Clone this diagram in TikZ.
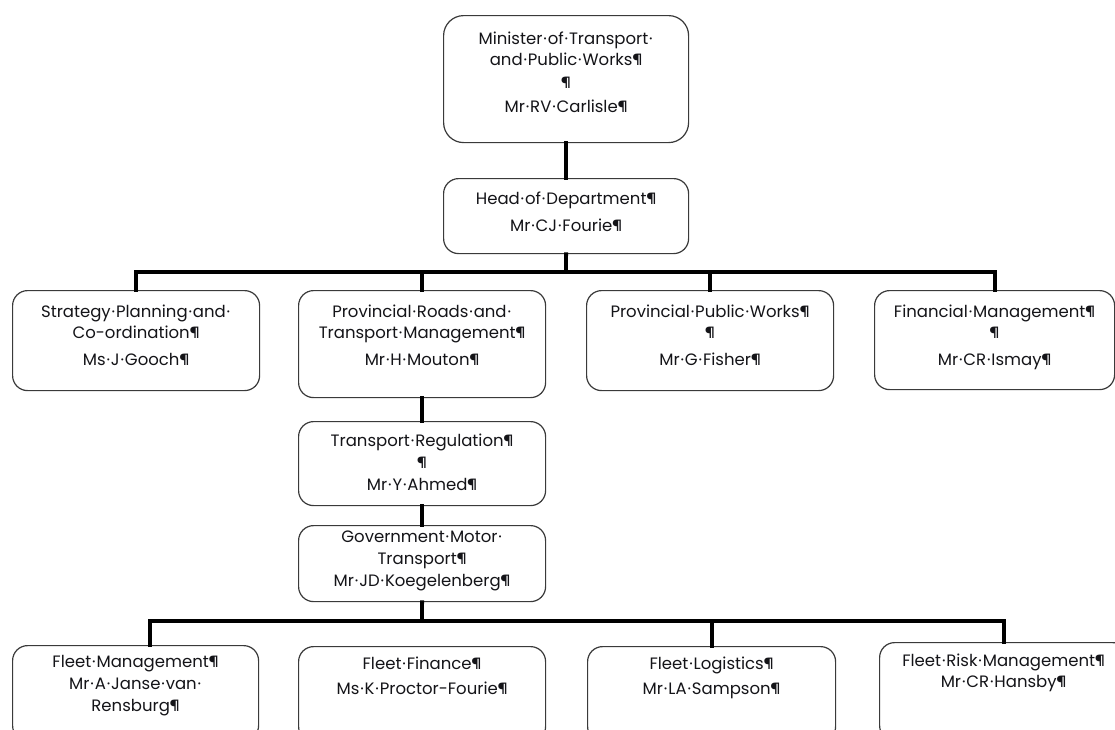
\documentclass[tikz,border=0pt]{standalone}
\usepackage{fontspec}
\setmainfont{Poppins}
\usetikzlibrary{calc}
\definecolor{boxline}{HTML}{3A3A3A}
\definecolor{txtcol}{HTML}{141418}
\newcommand\spc{\makebox[0.32em]{·}}
\begin{document}
\begin{tikzpicture}[x=1pt,y=-1pt,
  orgbox/.style={draw=boxline, line width=1.2pt, rounded corners=15pt, fill=white, inner sep=0pt, anchor=north west},
  txt/.style={align=center, inner sep=0pt, anchor=north, text=txtcol, font=\fontsize{16.5}{21}\selectfont},
  conn/.style={draw=black, line width=3.8pt, line cap=rect}]
\clip (0,0) rectangle (1115,729);
\fill[white] (0,0) rectangle (1115,729);
% boxes
\node[orgbox, rounded corners=20pt, minimum width=245pt, minimum height=127pt] (min) at (443,15) {};
\node[orgbox, minimum width=245pt, minimum height=75pt] (hod) at (443,178) {};
\node[orgbox, minimum width=247pt, minimum height=100pt] (strat) at (12,290) {};
\node[orgbox, minimum width=247pt, minimum height=107pt] (roads) at (298,290) {};
\node[orgbox, minimum width=247pt, minimum height=100pt] (pw) at (586,290) {};
\node[orgbox, minimum width=240pt, minimum height=99pt] (fin) at (874,290) {};
\node[orgbox, minimum width=247pt, minimum height=84pt] (tr) at (298,421) {};
\node[orgbox, minimum width=247pt, minimum height=76pt] (gmt) at (298,525) {};
\node[orgbox, minimum width=246pt, minimum height=95pt] (fm) at (12,645) {};
\node[orgbox, minimum width=247pt, minimum height=95pt] (ff) at (298,646) {};
\node[orgbox, minimum width=248pt, minimum height=95pt] (fl) at (587,646) {};
\node[orgbox, minimum width=248pt, minimum height=98pt] (fr) at (879,642) {};
% texts
\node[txt] (min-t) at ($(min.north)+(0,17)$) {Minister\spc of\spc Transport\spc\\and\spc Public\spc Works¶\\[2pt]¶\\[3pt]Mr\spc RV\spc Carlisle¶};
\node[txt] (hod-t) at ($(hod.north)+(0,14)$) {Head\spc of\spc Department¶\\[6pt]Mr\spc CJ\spc Fourie¶};
\node[txt] (strat-t) at ($(strat.north)+(0,15)$) {Strategy\spc Planning\spc and\spc\\Co-ordination¶\\[6pt]Ms\spc J\spc Gooch¶};
\node[txt] (roads-t) at ($(roads.north)+(0,15)$) {Provincial\spc Roads\spc and\spc\\Transport\spc Management¶\\[6pt]Mr\spc H\spc Mouton¶};
\node[txt] (pw-t) at ($(pw.north)+(0,15)$) {Provincial\spc Public\spc Works¶\\¶\\[6pt]Mr\spc G\spc Fisher¶};
\node[txt] (fin-t) at ($(fin.north)+(0,15)$) {Financial\spc Management¶\\¶\\[6pt]Mr\spc CR\spc Ismay¶};
\node[txt] (tr-t) at ($(tr.north)+(0,13)$) {Transport\spc Regulation¶\\[1pt]¶\\[1pt]Mr\spc Y\spc Ahmed¶};
\node[txt] (gmt-t) at ($(gmt.north)+(0,6)$) {Government\spc Motor\spc\\[1pt]Transport¶\\[1pt]Mr\spc JD\spc Koegelenberg¶};
\node[txt] (fm-t) at ($(fm.north)+(0,10)$) {Fleet\spc Management¶\\[1pt]Mr\spc A\spc Janse\spc van\spc\\[1pt]Rensburg¶};
\node[txt] (ff-t) at ($(ff.north)+(0,11)$) {Fleet\spc Finance¶\\[4pt]Ms\spc K\spc Proctor-Fourie¶};
\node[txt] (fl-t) at ($(fl.north)+(0,11)$) {Fleet\spc Logistics¶\\[4pt]Mr\spc LA\spc Sampson¶};
\node[txt] (fr-t) at ($(fr.north)+(0,12)$) {Fleet\spc Risk\spc Management¶\\Mr\spc CR\spc Hansby¶};
% connectors
\coordinate (bus1) at (566,272);
\coordinate (bus2) at (422,621);
\coordinate (fmdrop) at ($(fm.north)+(14,0)$);
\draw[conn] (min.south) -- (hod.north);
\draw[conn] (hod.south) -- (bus1);
\draw[conn] (strat.north) -- (strat.north |- bus1) -- (fin.north |- bus1) -- (fin.north);
\draw[conn] (roads.north) -- (roads.north |- bus1);
\draw[conn] (pw.north) -- (pw.north |- bus1);
\draw[conn] (roads.south) -- (tr.north);
\draw[conn] (tr.south) -- (gmt.north);
\draw[conn] (gmt.south) -- (bus2);
\draw[conn] (fmdrop) -- (fmdrop |- bus2) -- (fr.north |- bus2) -- (fr.north);
\draw[conn] (fl.north) -- (fl.north |- bus2);
\end{tikzpicture}
\end{document}
